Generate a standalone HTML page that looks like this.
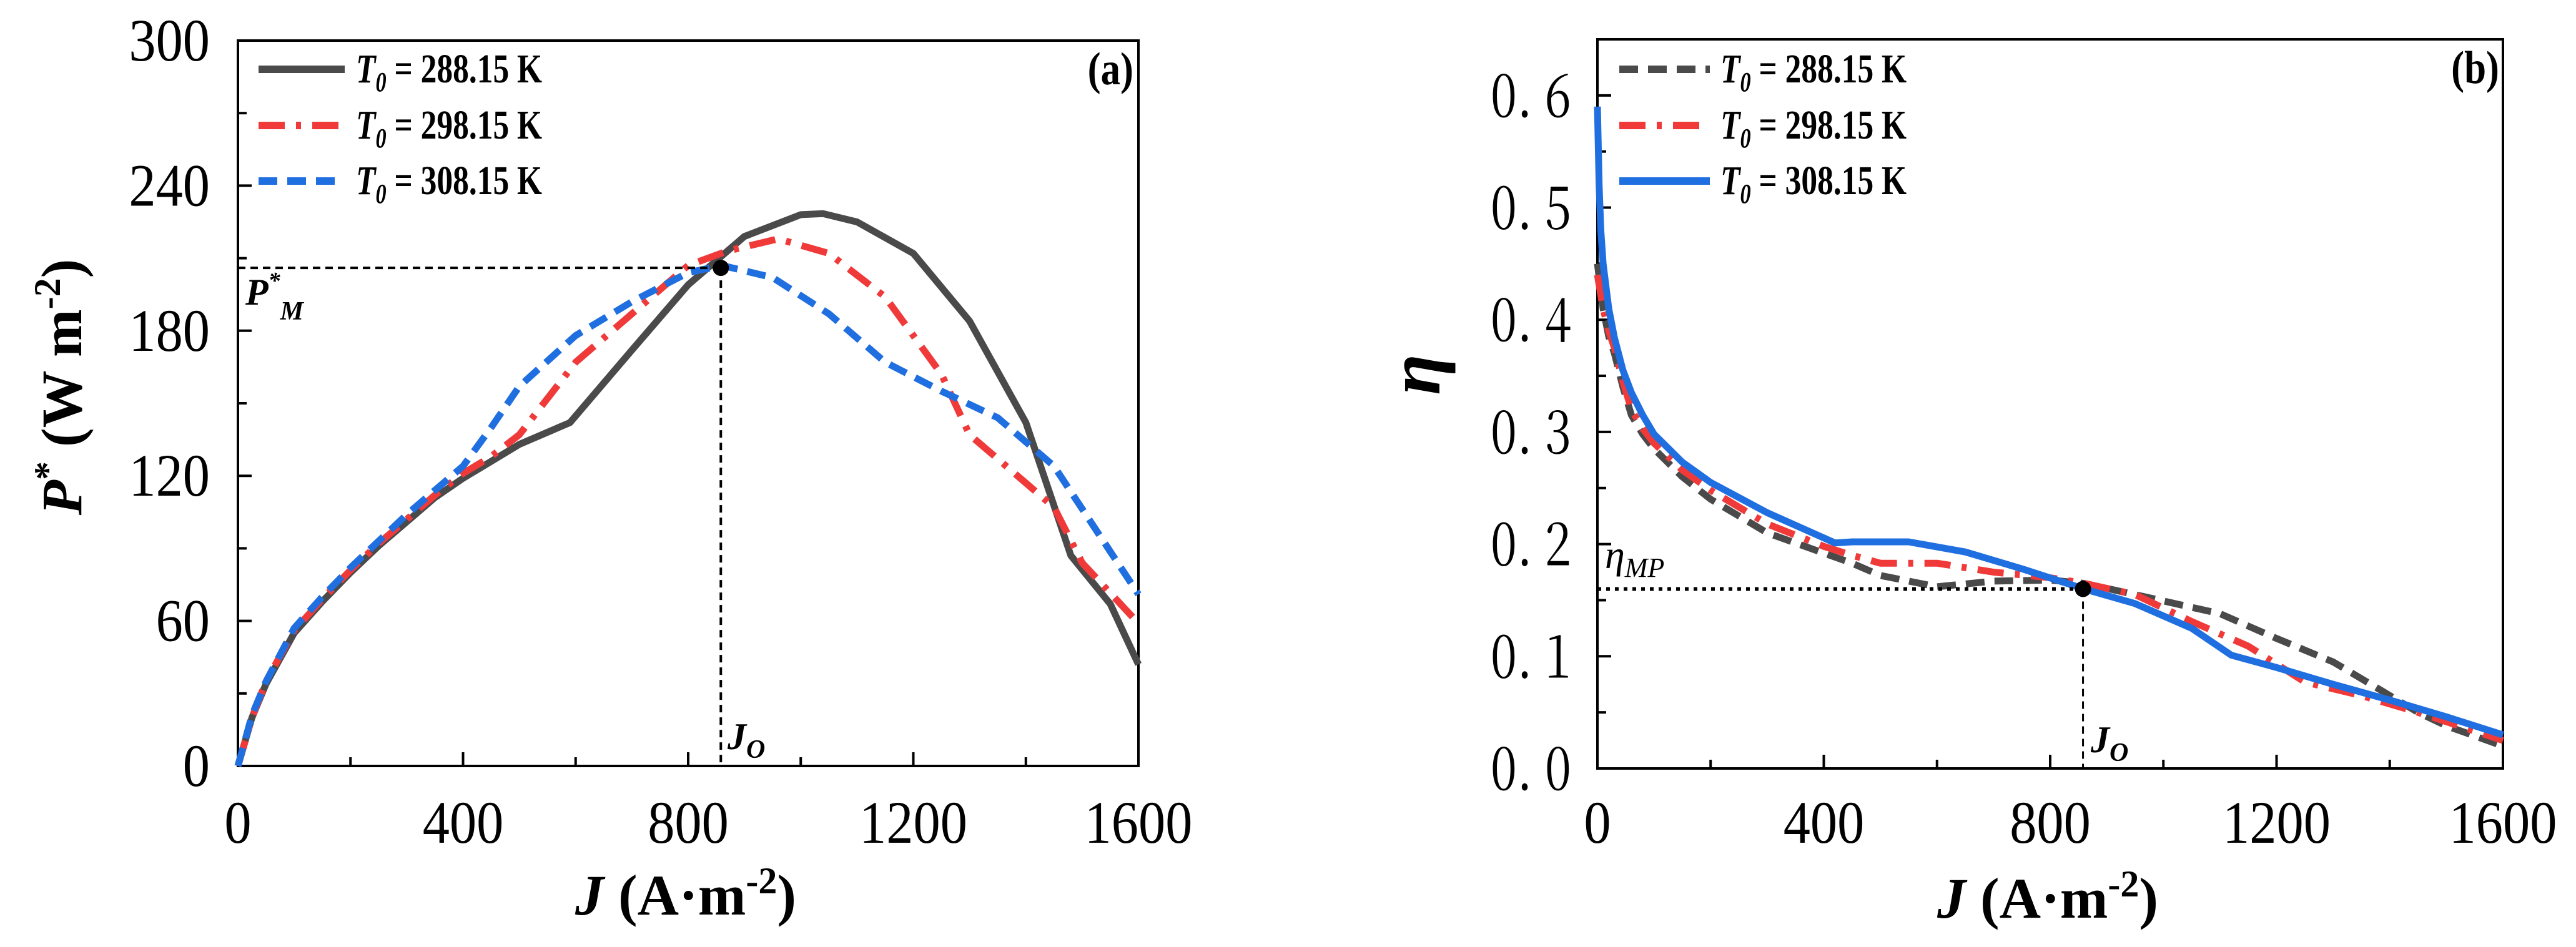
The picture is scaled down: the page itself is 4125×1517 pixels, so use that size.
<!DOCTYPE html>
<html><head><meta charset="utf-8"><style>
html,body{margin:0;padding:0;background:#fff;}
svg{display:block;font-family:"Liberation Serif",serif;}
</style></head><body>
<svg id="fig" width="4125" height="1517" viewBox="0 0 4125 1517" xmlns="http://www.w3.org/2000/svg"></svg>
<script>
const jA = [0,25,50,100,150,200,250,300,350,400,450,500,590,700,800,900,1000,1040,1100,1200,1300,1400,1480,1550,1600];
const pBlack = [0,20,34,55,68,80,91,101,111,119,126,133,142,172,199,219,228,228.4,225,212,184,142,87,67,42];
const jA2 = [0,25,50,100,150,200,250,300,350,400,450,500,600,700,800,870,960,1050,1150,1250,1300,1400,1450,1500,1600];
const pRed = [0,20,35,56,69,81,92,102,112,121,128,137,167,187,207,213,218,212,194,162,137,117,107,84,59];
const jA3 = [0,25,50,100,150,200,250,300,350,400,450,500,600,700,800,860,950,1050,1150,1250,1350,1450,1600];
const pBlue = [0,21,35,57,70,82,93,104,114,124,140,157,178,192,204,207,202,187,167,155,144,124,71];
const jB1 = [0,5,10,20,30,45,60,80,100,150,200,300,400,450,500,600,700,800,860,950,1100,1195,1300,1350,1400,1450,1500,1600];
const eBlack = [0.45,0.43,0.41,0.385,0.37,0.34,0.315,0.298,0.285,0.26,0.24,0.21,0.192,0.183,0.172,0.162,0.167,0.168,0.165,0.155,0.138,0.117,0.095,0.08,0.065,0.05,0.038,0.02];
const jB2 = [0,5,10,20,30,45,60,80,100,150,200,300,400,450,500,600,700,800,860,950,1050,1150,1250,1350,1450,1600];
const eRed = [0.44,0.425,0.41,0.39,0.375,0.345,0.32,0.303,0.29,0.266,0.248,0.218,0.198,0.19,0.183,0.183,0.175,0.17,0.165,0.155,0.131,0.109,0.077,0.065,0.05,0.025];
const jB3 = [0,3,6,10,20,30,45,60,80,100,150,200,300,420,450,550,650,750,860,950,1050,1120,1200,1300,1400,1500,1600];
const eBlue = [0.59,0.52,0.48,0.45,0.41,0.384,0.355,0.335,0.315,0.298,0.273,0.255,0.228,0.201,0.202,0.202,0.193,0.178,0.16,0.147,0.125,0.101,0.09,0.075,0.061,0.046,0.03];
const xTicks = [0,400,800,1200,1600];
const yTicksA = [0,60,120,180,240,300];
const yTicksB = ["0.0","0.1","0.2","0.3","0.4","0.5","0.6"];
const jO = 858, pM = 206, etaMP = 0.16;

const NS="http://www.w3.org/2000/svg";
const svg=document.getElementById('fig');
function mk(tag,attrs,parent){const e=document.createElementNS(NS,tag);for(const k in attrs)e.setAttribute(k,attrs[k]);(parent||svg).appendChild(e);return e;}
const A={l:381,r:1823,t:65,b:1227,ymax:300};
const B={l:2558,r:4008,t:63,b:1231,ymax:0.65};
function sx(P,v){return P.l+(P.r-P.l)*v/1600;}
function sy(P,v){return P.b-(P.b-P.t)*v/P.ymax;}
function line(P,xs,ys,color,dash,name){
  let d='';xs.forEach((x,i)=>{d+=(i?'L':'M')+sx(P,x).toFixed(1)+' '+sy(P,ys[i]).toFixed(1);});
  const p=mk('path',{d:d,fill:'none',stroke:color,'stroke-width':11,'stroke-linejoin':'round','stroke-dasharray':dash});
  
  
}
function axes(P,prefix){
  const f=mk('rect',{x:P.l,y:P.t,width:P.r-P.l,height:P.b-P.t,fill:'none',stroke:'#000','stroke-width':4});
  
  
  for(let v=0;v<=1600;v+=200){const x=sx(P,v);const major=v%400===0;mk('line',{x1:x,x2:x,y1:P.b,y2:P.b-(major?22:14),stroke:'#000','stroke-width':4});}
  xTicks.forEach(v=>{const t=mk('text',{x:0,y:0,'font-size':96,'text-anchor':'middle',transform:'translate('+sx(P,v)+',1350) scale(0.9,1)'});t.textContent=v;
    
    });
}
axes(A,'panel-a');
for(let v=0;v<=300;v+=30){const y=sy(A,v);mk('line',{x1:A.l,x2:A.l+(v%60===0?22:14),y1:y,y2:y,stroke:'#000','stroke-width':4});}
yTicksA.forEach(v=>{const t=mk('text',{x:0,y:0,'font-size':96,'text-anchor':'end',transform:'translate(336,'+(sy(A,v)+32)+') scale(0.9,1)'});t.textContent=v;
  
  });
line(A,jA,pBlack,'#4a4a4a','none','series-288');
line(A,jA2,pRed,'#f03a3a','42 18 8 18','series-298');
line(A,jA3,pBlue,'#1f6fe0','30 16','series-308');
mk('line',{x1:A.l,x2:sx(A,jO),y1:sy(A,pM),y2:sy(A,pM),stroke:'#000','stroke-width':4,'stroke-dasharray':'12 8'});
mk('line',{x1:sx(A,jO),x2:sx(A,jO),y1:sy(A,pM),y2:A.b,stroke:'#000','stroke-width':4,'stroke-dasharray':'12 8'});
mk('circle',{cx:sx(A,jO),cy:sy(A,pM),r:13,fill:'#000'});
axes(B,'panel-b');
for(let i=0;i<=13;i++){const v=i*0.05;const y=sy(B,v);mk('line',{x1:B.l,x2:B.l+(i%2===0?22:14),y1:y,y2:y,stroke:'#000','stroke-width':4});}
yTicksB.forEach(v=>{const t=mk('text',{x:0,y:0,'font-size':96,'text-anchor':'end','font-family':'"Noto Serif CJK SC",serif',transform:'translate(2516,'+(sy(B,parseFloat(v))+34)+') scale(0.8,1)'});t.textContent=v.replace('.','. ');
  
  });
line(B,jB1,eBlack,'#4a4a4a','30 16','eta-288');
line(B,jB2,eRed,'#f03a3a','42 18 8 18','eta-298');
line(B,jB3,eBlue,'#1f6fe0','none','eta-308');
mk('line',{x1:B.l,x2:sx(B,jO),y1:sy(B,etaMP),y2:sy(B,etaMP),stroke:'#000','stroke-width':6,'stroke-dasharray':'6 8'});
mk('line',{x1:sx(B,jO),x2:sx(B,jO),y1:sy(B,etaMP),y2:B.b,stroke:'#000','stroke-width':3,'stroke-dasharray':'12 8'});
mk('circle',{cx:sx(B,jO),cy:sy(B,etaMP),r:13,fill:'#000'});
</script>
<svg style="position:absolute;left:0;top:0" width="4125" height="1517" xmlns="http://www.w3.org/2000/svg" font-family="Liberation Serif, serif">
<g font-weight="bold" font-size="66">
  <line x1="414" y1="111" x2="552" y2="111" stroke="#4a4a4a" stroke-width="12"/>
  <text transform="translate(570,132) scale(0.78,1)"><tspan font-style="italic">T</tspan><tspan font-style="italic" font-size="44" dy="14">0</tspan><tspan dy="-14"> = 288.15 K</tspan></text>
  <line x1="414" y1="201" x2="552" y2="201" stroke="#f03a3a" stroke-width="12" stroke-dasharray="42 18 8 18"/>
  <text transform="translate(570,222) scale(0.78,1)"><tspan font-style="italic">T</tspan><tspan font-style="italic" font-size="44" dy="14">0</tspan><tspan dy="-14"> = 298.15 K</tspan></text>
  <line x1="414" y1="290" x2="552" y2="290" stroke="#1f6fe0" stroke-width="12" stroke-dasharray="30 16"/>
  <text transform="translate(570,311) scale(0.78,1)"><tspan font-style="italic">T</tspan><tspan font-style="italic" font-size="44" dy="14">0</tspan><tspan dy="-14"> = 308.15 K</tspan></text>
</g>
<text transform="translate(1815,135) scale(0.85,1)" font-size="74" font-weight="bold" text-anchor="end">(a)</text>
<text x="393" y="488" font-size="60" font-style="italic" font-weight="bold">P<tspan font-size="38" dy="-26">*</tspan><tspan font-size="42" dy="50">M</tspan></text>
<text x="1165" y="1200" font-size="60" font-style="italic" font-weight="bold">J<tspan font-size="42" dy="14">O</tspan></text>
<text transform="translate(130,620) rotate(-90)" font-size="92" font-weight="bold" text-anchor="middle"><tspan font-style="italic">P</tspan><tspan font-size="60" dy="-34">*</tspan><tspan dy="34">  (W m</tspan><tspan font-size="60" dy="-34">-2</tspan><tspan dy="34">)</tspan></text>
<text x="1098" y="1465" font-size="92" font-weight="bold" text-anchor="middle"><tspan font-style="italic">J</tspan> (A·m<tspan font-size="60" dy="-34">-2</tspan><tspan dy="34">)</tspan></text>

<g font-weight="bold" font-size="66">
  <line x1="2593" y1="111" x2="2738" y2="111" stroke="#4a4a4a" stroke-width="12" stroke-dasharray="30 16"/>
  <text transform="translate(2755,132) scale(0.78,1)"><tspan font-style="italic">T</tspan><tspan font-style="italic" font-size="44" dy="14">0</tspan><tspan dy="-14"> = 288.15 K</tspan></text>
  <line x1="2593" y1="201" x2="2738" y2="201" stroke="#f03a3a" stroke-width="12" stroke-dasharray="42 18 8 18"/>
  <text transform="translate(2755,222) scale(0.78,1)"><tspan font-style="italic">T</tspan><tspan font-style="italic" font-size="44" dy="14">0</tspan><tspan dy="-14"> = 298.15 K</tspan></text>
  <line x1="2593" y1="290" x2="2738" y2="290" stroke="#1f6fe0" stroke-width="12"/>
  <text transform="translate(2755,311) scale(0.78,1)"><tspan font-style="italic">T</tspan><tspan font-style="italic" font-size="44" dy="14">0</tspan><tspan dy="-14"> = 308.15 K</tspan></text>
</g>
<text transform="translate(4002,133) scale(0.85,1)" font-size="74" font-weight="bold" text-anchor="end">(b)</text>
<text x="2570" y="910" font-size="64" font-style="italic">η<tspan font-size="44" dy="14">MP</tspan></text>
<text x="3348" y="1205" font-size="60" font-style="italic" font-weight="bold">J<tspan font-size="42" dy="14">O</tspan></text>
<text transform="translate(2305,600) rotate(-90)" font-size="120" font-style="italic" font-weight="bold" text-anchor="middle">η</text>
<text x="3279" y="1470" font-size="92" font-weight="bold" text-anchor="middle"><tspan font-style="italic">J</tspan> (A·m<tspan font-size="60" dy="-34">-2</tspan><tspan dy="34">)</tspan></text>
</svg>
</body></html>
